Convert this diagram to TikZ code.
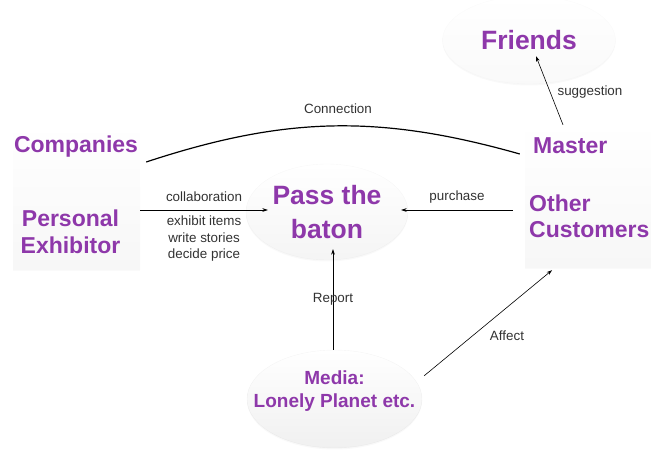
\documentclass[tikz,border=0pt]{standalone}
\usepackage{fontspec}
\setmainfont{Liberation Sans}
\usetikzlibrary{arrows.meta,positioning,shapes.geometric,shadows}
\definecolor{plum}{RGB}{142,56,170}
\definecolor{ink}{RGB}{50,50,50}
\definecolor{mist}{RGB}{232,232,232}
\tikzset{
  x=1pt,y=1pt,
  >={Stealth[length=1.9mm,width=1.3mm]},
  panel/.style={rectangle,top color=white,bottom color=mist!35,inner sep=0pt,
    drop shadow={opacity=0.04,shadow xshift=0pt,shadow yshift=-1pt}},
  bubble/.style={ellipse,top color=white,bottom color=mist!#1,inner sep=0pt,
    draw=black!#1!white,draw opacity=0.06,
    text=plum,font=\fontsize{26.5}{34}\selectfont\bfseries,align=center,
    drop shadow={opacity=0.05,shadow xshift=0pt,shadow yshift=-1.5pt}},
  bubble/.default=45,
  title/.style={text=plum,font=\fontsize{23}{26.5}\selectfont\bfseries,inner sep=0pt},
  lbl/.style={text=ink,font=\fontsize{13.4}{16.5}\selectfont,inner sep=0pt,align=center},
  link/.style={->,draw=black,line width=0.6pt},
}
\begin{document}
\begin{tikzpicture}
  \useasboundingbox (0,0) rectangle (651,450);
  % boxes and bubbles
  \node[panel,minimum width=127,minimum height=147] (sellers) at (76.5,253.5) {};
  \node[panel,minimum width=130,minimum height=146] (buyers) at (590,255) {};
  \node[bubble=25,minimum width=173,minimum height=88] (friends) at (529,410) {Friends};
  \node[bubble,minimum width=162,minimum height=96] (pass) at (327,238) {Pass the\\baton};
  \node[bubble=65,minimum width=175,minimum height=98] (media) at (334.5,51) {};
  \node[title,align=center,font=\fontsize{19}{23}\selectfont\bfseries] (mediatext)
    at ([yshift=7.5pt]media.center) {Media:\\Lonely Planet etc.};
  \node[title] (companies) at (76,303) {Companies};
  \node[title,align=center] (personal) at (70.5,218) {Personal\\Exhibitor};
  \node[title,anchor=west] (master) at (533,304) {Master};
  \node[title,anchor=west,align=left] (others) at (529,233.5) {Other\\Customers};

  % connectors
  \draw[line width=1.2pt] ([xshift=6pt,yshift=34.5pt]sellers.east)
    to[bend left=17] ([xshift=-5pt,yshift=41pt]buyers.west);
  \draw[link] ([yshift=-13.5pt]sellers.east) -- ([xshift=22pt,yshift=2pt]pass.west);
  \draw[link] ([xshift=-12pt,yshift=-15pt]buyers.west) -- ([xshift=-7pt,yshift=2pt]pass.east);
  \draw[link] ([xshift=-1.5pt]media.north) -- ([xshift=-1.5pt,yshift=11pt]media.north |- pass.south);
  \draw[link] ([xshift=10.5pt,yshift=2pt]media.15) -- ([xshift=-38pt,yshift=-2pt]buyers.south);
  \draw[link] ([xshift=-27pt,yshift=-3pt]buyers.north) -- ([xshift=7pt,yshift=28pt]friends.south);

  \node[lbl] (conn) at (338,341) {Connection};
  \node[lbl] (collab) at (204,253) {collaboration};
  \node[lbl] (tasks) at (204,211) {exhibit items\\write stories\\decide price};
  \node[lbl] (buy) at (457,253) {purchase};
  \node[lbl] (report) at (333,151) {Report};
  \node[lbl] (affect) at (507,114) {Affect};
  \node[lbl] (suggest) at (590,358) {suggestion};
\end{tikzpicture}
\end{document}
